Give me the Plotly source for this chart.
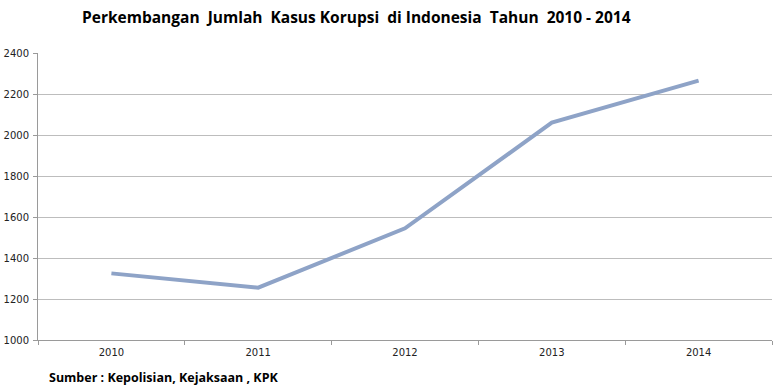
import plotly.graph_objects as go

years = ["2010", "2011", "2012", "2013", "2014"]
cases = [1325, 1255, 1545, 2060, 2265]
y_ticks = [1000, 1200, 1400, 1600, 1800, 2000, 2200, 2400]

title_text = "Perkembangan  Jumlah  Kasus Korupsi  di Indonesia  Tahun  2010 - 2014"
source_text = "Sumber : Kepolisian, Kejaksaan , KPK"

fig = go.Figure()
fig.add_trace(go.Scatter(
    x=years, y=cases, mode="lines",
    line=dict(color="#8EA3C7", width=4),
    hoverinfo="x+y",
))

fig.update_layout(
    width=780, height=390,
    margin=dict(l=38, r=8, t=53, b=50),
    paper_bgcolor="white", plot_bgcolor="white",
    showlegend=False,
    font=dict(family="Open Sans, DejaVu Sans, sans-serif", color="#000000"),
    title=dict(
        text="<b>" + title_text + "</b>",
        x=82/780, xanchor="left", y=1-18/390, yanchor="middle",
        font=dict(size=15.5, family="Open Sans, sans-serif", color="#000000"),
    ),
    xaxis=dict(
        type="category", tickson="boundaries", automargin=False,
        range=[-0.5, len(years) - 0.5],
        ticks="outside", ticklen=4, tickcolor="#9a9a9a",
        ticklabelstandoff=3,
        showline=True, linecolor="#9a9a9a", linewidth=1,
        showgrid=False, zeroline=False,
        tickfont=dict(size=10, family="DejaVu Sans, sans-serif", color="#222"),
    ),
    yaxis=dict(
        range=[1000, 2400], tickvals=y_ticks, automargin=False,
        ticks="outside", ticklen=4, tickcolor="#9a9a9a",
        ticklabelstandoff=2,
        showline=True, linecolor="#9a9a9a", linewidth=1,
        showgrid=True, gridcolor="#BDBDBD", gridwidth=1,
        zeroline=False,
        tickfont=dict(size=10, family="DejaVu Sans, sans-serif", color="#222"),
    ),
)

fig.add_annotation(
    text="<b>" + source_text + "</b>",
    xref="paper", yref="paper", x=(47-38)/734, y=-37/287,
    xanchor="left", yanchor="middle", showarrow=False,
    font=dict(size=12.5, family="Open Sans, sans-serif", color="#000"),
)

fig.write_html(
    "out.html",
    config={"displayModeBar": False},
    post_script="document.body.style.margin='0';document.body.style.overflow='hidden';",
)
